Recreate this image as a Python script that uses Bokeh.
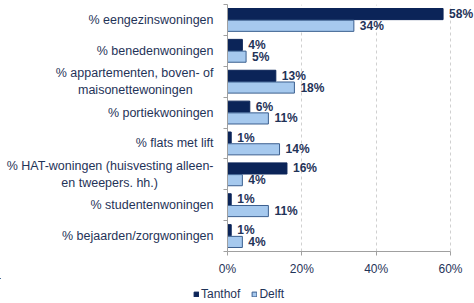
from bokeh.plotting import figure
from bokeh.layouts import column, row
from bokeh.models import (ColumnDataSource, FixedTicker, NumeralTickFormatter,
                          LabelSet, Legend, LegendItem, Range1d)
from bokeh.core.properties import value
from bokeh.embed import file_html
from bokeh.resources import INLINE

NB = "\u00a0"
categories = [
    "% eengezinswoningen",
    "% benedenwoningen",
    "% appartementen, boven- of\nmaisonettewoningen" + NB * 6,
    "% portiekwoningen",
    "% flats met lift",
    "% HAT-woningen (huisvesting alleen-\nen tweepers. hh.)" + NB * 16,
    "% studentenwoningen",
    "% bejaarden/zorgwoningen",
]
series = ["Tanthof", "Delft"]
tanthof = [0.58, 0.04, 0.13, 0.06, 0.01, 0.16, 0.01, 0.01]
delft = [0.34, 0.05, 0.18, 0.11, 0.14, 0.04, 0.11, 0.04]
x_ticks = [0.0, 0.2, 0.4, 0.6]

n = len(categories)
centers = [n - i - 0.5 for i in range(n)]
bar_h = 0.36
off = 0.19

TEXT = "#1f3358"
DARK = "#0b2458"
LIGHT = "#a6c9ee"
LIGHT_LINE = "#3b5f8f"
FONT = "Liberation Sans"

W, H, HL = 474, 278, 25
LEFT = 227
AX_W = 223  # pixels from 0% to 60%
x_end = x_ticks[-1] * (W - LEFT) / AX_W

src_t = ColumnDataSource(dict(y=[c + off for c in centers], v=tanthof,
                              lab=[f"{round(v*100)}%" for v in tanthof]))
src_d = ColumnDataSource(dict(y=[c - off for c in centers], v=delft,
                              lab=[f"{round(v*100)}%" for v in delft]))

p = figure(width=W, height=H, output_backend="svg", toolbar_location=None,
           x_range=Range1d(0, x_end), y_range=Range1d(0, n),
           min_border_left=LEFT, min_border_right=0, min_border_top=4,
           min_border_bottom=24)
p.outline_line_color = None
p.background_fill_color = "white"
p.border_fill_color = "white"

p.hbar(y="y", right="v", left=0, height=bar_h, source=src_t,
       fill_color=DARK, line_color=DARK, line_width=1)
p.hbar(y="y", right="v", left=0, height=bar_h, source=src_d,
       fill_color=LIGHT, line_color=LIGHT_LINE, line_width=1)

for src in (src_t, src_d):
    p.add_layout(LabelSet(x="v", y="y", text="lab", source=src, x_offset=6,
                          text_baseline="middle", text_align="left",
                          text_font=value(FONT), text_font_size=value("12px"),
                          text_font_style="bold", text_color=TEXT))

# x axis
p.xaxis.ticker = FixedTicker(ticks=x_ticks)
p.xaxis.bounds = (x_ticks[0], x_ticks[-1])
p.xaxis.formatter = NumeralTickFormatter(format="0%")
p.xaxis.axis_line_color = "#a0a0a0"
p.xaxis.major_tick_line_color = "#a0a0a0"
p.xaxis.major_tick_out = 4
p.xaxis.major_tick_in = 0
p.xaxis.minor_tick_line_color = None
p.xaxis.major_label_standoff = 6
p.xaxis.major_label_text_font = FONT
p.xaxis.major_label_text_font_size = "12px"
p.xaxis.major_label_text_color = TEXT

# y axis: labels at category centres, ticks between categories
p.yaxis.ticker = FixedTicker(ticks=centers, minor_ticks=list(range(n + 1)))
p.yaxis.major_label_overrides = {c: lab for c, lab in zip(centers, categories)}
p.yaxis.axis_line_color = "#a0a0a0"
p.yaxis.major_tick_line_color = None
p.yaxis.major_tick_out = 0
p.yaxis.major_tick_in = 0
p.yaxis.minor_tick_line_color = "#a0a0a0"
p.yaxis.minor_tick_out = 4
p.yaxis.minor_tick_in = 0
p.yaxis.major_label_standoff = 10
p.yaxis.major_label_text_font = FONT
p.yaxis.major_label_text_font_size = "12.5px"
p.yaxis.major_label_text_color = TEXT
p.yaxis.major_label_text_line_height = 1.2

p.ygrid.grid_line_color = None
p.xgrid.grid_line_color = "#d0d0d0"
p.xgrid.grid_line_dash = "3 3"

# legend strip below the chart
pl = figure(width=W, height=HL, output_backend="svg", toolbar_location=None,
            x_range=Range1d(10, 11), y_range=Range1d(-10, -9),
            x_axis_location=None, y_axis_location=None,
            min_border_left=0, min_border_right=0, min_border_top=0,
            min_border_bottom=0)
pl.outline_line_color = None
pl.grid.grid_line_color = None
lt = pl.hbar(y="y", right="v", left=0, height=bar_h, source=src_t,
             fill_color=DARK, line_color=DARK, line_width=1)
ld = pl.hbar(y="y", right="v", left=0, height=bar_h, source=src_d,
             fill_color=LIGHT, line_color=LIGHT_LINE, line_width=1)
legend = Legend(items=[LegendItem(label=series[0], renderers=[lt]),
                       LegendItem(label=series[1], renderers=[ld])],
                orientation="horizontal", location=(193, 2),
                label_text_font=FONT, label_text_font_size="12px",
                label_text_color=TEXT, glyph_width=6, glyph_height=6,
                label_standoff=2, spacing=11, padding=0, margin=0,
                label_height=12,
                border_line_color=None, background_fill_alpha=0)
pl.add_layout(legend, "center")

open("out.html", "w").write(file_html(column(p, row(pl)), INLINE))
